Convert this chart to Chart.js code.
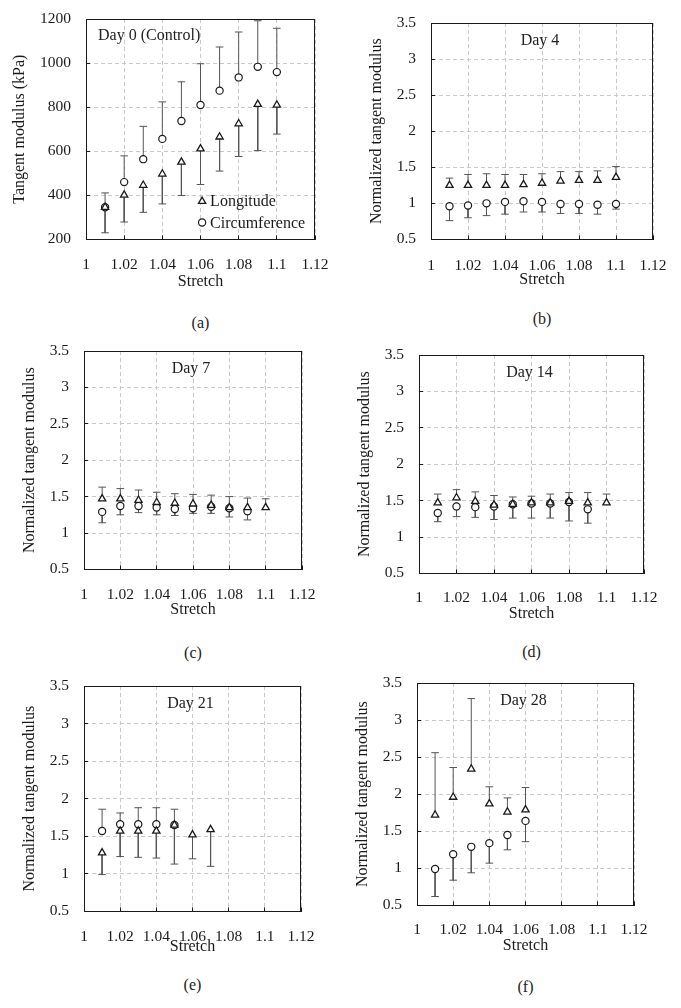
<!DOCTYPE html>
<html>
<head>
<meta charset="utf-8">
<script src="https://cdn.jsdelivr.net/npm/chart.js@4.4.0/dist/chart.umd.min.js"></script>
<style>
  body { margin: 0; background: #fff; overflow: hidden; }
  #page { position: relative; width: 681px; height: 1008px; overflow: hidden; font-family: 'Liberation Serif', 'Times New Roman', serif; color: #222; }
  #page canvas { position: absolute; }
  .lbl { position: absolute; font-size: 16px; line-height: 16px; white-space: nowrap; }
</style>
</head>
<body>
<div id="page"></div>
<script>
// stretch values shared by all panels (series use the first n entries)
const stretch = [1.01, 1.02, 1.03, 1.04, 1.05, 1.06, 1.07, 1.08, 1.09, 1.10];

// Day 0 (Control), kPa -- longitude bars go down, circumference bars go up
const day0Long    = [346, 401, 446, 497, 551, 611, 665, 725, 813, 810];
const day0LongEnd = [230, 279, 323, 361, 399, 449, 510, 576, 603, 678];
const day0Circ    = [346, 460, 564, 656, 737, 810, 875, 935, 983, 959];
const day0CircEnd = [411, 579, 713, 824, 915, 997, 1073, 1141, 1192, 1158];

// Day 4 (normalized)
const day4Long    = [1.25, 1.25, 1.25, 1.25, 1.26, 1.28, 1.31, 1.32, 1.32, 1.36];
const day4LongEnd = [1.35, 1.40, 1.41, 1.40, 1.40, 1.41, 1.44, 1.44, 1.45, 1.51];
const day4Circ    = [0.96, 0.97, 1.00, 1.02, 1.03, 1.02, 0.99, 0.99, 0.98, 0.99];
const day4CircEnd = [0.76, 0.80, 0.83, 0.85, 0.88, 0.88, 0.86, 0.86, 0.85, 0.92];

// Day 7
const day7Long    = [1.47, 1.47, 1.45, 1.42, 1.41, 1.40, 1.38, 1.35, 1.35, 1.35];
const day7LongEnd = [1.63, 1.61, 1.59, 1.56, 1.54, 1.53, 1.52, 1.50, 1.48, 1.47];
const day7Circ    = [1.29, 1.37, 1.37, 1.35, 1.33, 1.34, 1.36, 1.34, 1.30];
const day7CircEnd = [1.14, 1.25, 1.28, 1.25, 1.24, 1.27, 1.27, 1.22, 1.18];

// Day 14
const day14Long    = [1.47, 1.54, 1.49, 1.44, 1.45, 1.47, 1.47, 1.49, 1.47, 1.47];
const day14LongEnd = [1.59, 1.65, 1.62, 1.57, 1.55, 1.56, 1.59, 1.61, 1.61, 1.59];
const day14Circ    = [1.33, 1.42, 1.41, 1.42, 1.45, 1.46, 1.46, 1.48, 1.38];
const day14CircEnd = [1.21, 1.28, 1.27, 1.24, 1.26, 1.26, 1.26, 1.22, 1.19];

// Day 21
const day21Long    = [1.28, 1.57, 1.57, 1.57, 1.65, 1.52, 1.59];
const day21LongEnd = [0.99, 1.23, 1.22, 1.21, 1.13, 1.20, 1.10];
const day21Circ    = [1.57, 1.66, 1.66, 1.66, 1.65];
const day21CircEnd = [1.86, 1.81, 1.88, 1.88, 1.86];

// Day 28
const day28Long    = [1.72, 1.96, 2.34, 1.87, 1.76, 1.79];
const day28LongEnd = [2.56, 2.36, 3.29, 2.10, 1.95, 2.09];
const day28Circ    = [0.99, 1.19, 1.29, 1.34, 1.45, 1.64];
const day28CircEnd = [0.62, 0.84, 0.94, 1.07, 1.25, 1.36];

const panels = [
  { tag: '(a)', day: 'Day 0 (Control)', yTitle: 'Tangent modulus (kPa)', yMin: 200, yMax: 1200, yStep: 200,
    long: day0Long, longEnd: day0LongEnd, circ: day0Circ, circEnd: day0CircEnd, legend: true },
  { tag: '(b)', day: 'Day 4', yTitle: 'Normalized tangent modulus', yMin: 0.5, yMax: 3.5, yStep: 0.5,
    long: day4Long, longEnd: day4LongEnd, circ: day4Circ, circEnd: day4CircEnd },
  { tag: '(c)', day: 'Day 7', yTitle: 'Normalized tangent modulus', yMin: 0.5, yMax: 3.5, yStep: 0.5,
    long: day7Long, longEnd: day7LongEnd, circ: day7Circ, circEnd: day7CircEnd },
  { tag: '(d)', day: 'Day 14', yTitle: 'Normalized tangent modulus', yMin: 0.5, yMax: 3.5, yStep: 0.5,
    long: day14Long, longEnd: day14LongEnd, circ: day14Circ, circEnd: day14CircEnd },
  { tag: '(e)', day: 'Day 21', yTitle: 'Normalized tangent modulus', yMin: 0.5, yMax: 3.5, yStep: 0.5,
    long: day21Long, longEnd: day21LongEnd, circ: day21Circ, circEnd: day21CircEnd },
  { tag: '(f)', day: 'Day 28', yTitle: 'Normalized tangent modulus', yMin: 0.5, yMax: 3.5, yStep: 0.5,
    long: day28Long, longEnd: day28LongEnd, circ: day28Circ, circEnd: day28CircEnd }
];

// where each plot area sits on the page
const frames = [
  { x0: 0,   l: 86,  t: 19,  r: 315, b: 239, tickOff: 26, titleOff: 42, yTitleOff: 66, tagY: 323 },
  { x0: 340, l: 431, t: 23,  r: 653, b: 239, tickOff: 27, titleOff: 40, yTitleOff: 54, tagY: 319 },
  { x0: 0,   l: 84,  t: 351, r: 302, b: 569, tickOff: 26, titleOff: 40, yTitleOff: 54, tagY: 653 },
  { x0: 340, l: 419, t: 355, r: 644, b: 573, tickOff: 25, titleOff: 40, yTitleOff: 54, tagY: 652 },
  { x0: 0,   l: 84,  t: 686, r: 301, b: 911, tickOff: 26, titleOff: 35, yTitleOff: 54, tagY: 985 },
  { x0: 340, l: 417, t: 683, r: 634, b: 905, tickOff: 25, titleOff: 40, yTitleOff: 54, tagY: 987 }
];

const INK = '#1a1a1a';
const BAR = '#555';
const TICK_FONT = 15.5;
const TITLE_FONT = 16;
const PAD_TOP = 40;     // room for the top tick label + its padding
const PAD_RIGHT = 45;   // room for the last x tick label + its padding

Chart.defaults.font.family = "'Liberation Serif', 'Times New Roman', serif";
Chart.defaults.color = INK;

function points(values) {
  return values.map((v, i) => ({ x: stretch[i], y: v }));
}

// one-sided error bar: mean -> bar end, broken with null between points
function errorPoints(values, ends) {
  const pts = [];
  values.forEach((v, i) => {
    pts.push({ x: stretch[i], y: v });
    pts.push({ x: stretch[i], y: ends[i], cap: true });
    pts.push({ x: stretch[i], y: null });
  });
  return pts;
}

// black frame round the plot area
const framePlugin = {
  id: 'frame',
  beforeDatasetsDraw(chart) {
    const { ctx, chartArea: a } = chart;
    ctx.save();
    ctx.strokeStyle = INK;
    ctx.lineWidth = 1;
    ctx.strokeRect(Math.round(a.left) + 0.5, Math.round(a.top) + 0.5,
      Math.round(a.width) - 1, Math.round(a.height));
    ctx.restore();
  }
};

// legend drawn inside the plot area (panel a)
const markerLegend = {
  id: 'markerLegend',
  afterDatasetsDraw(chart, args, opts) {
    if (!opts.show) return;
    const { ctx, chartArea: a } = chart;
    const x = a.left + opts.x * a.width;
    chart.data.datasets.slice(0, 2).forEach((ds, k) => {
      const y = a.top + opts.ys[k] * a.height;
      ctx.save();
      ctx.strokeStyle = INK;
      ctx.fillStyle = '#fff';
      ctx.lineWidth = ds.pointBorderWidth;
      Chart.helpers.drawPoint(ctx, {
        pointStyle: ds.pointStyle, radius: ds.pointRadius, rotation: 0, borderWidth: ds.pointBorderWidth
      }, x, y);
      ctx.fillStyle = INK;
      ctx.font = TITLE_FONT + "px 'Liberation Serif', serif";
      ctx.textBaseline = 'middle';
      ctx.textAlign = 'left';
      ctx.fillText(ds.label, x + 8, y + 1);
      ctx.restore();
    });
  }
};

const page = document.getElementById('page');

function addLabel(text, x, y, align) {
  const d = document.createElement('div');
  d.className = 'lbl';
  d.textContent = text;
  d.style.top = (y - 8) + 'px';
  d.style.left = x + 'px';
  if (align !== 'left') d.style.transform = 'translateX(-50%)';
  page.appendChild(d);
}

panels.forEach((p, k) => {
  const f = frames[k];
  const xAxisH = f.titleOff + TITLE_FONT * 0.6;
  const top = f.t - PAD_TOP;
  const w = f.r - f.x0 + PAD_RIGHT;
  const h = Math.round(f.b - top + xAxisH);
  const yAxisW = f.l - f.x0;

  const cv = document.createElement('canvas');
  cv.width = w;
  cv.height = h;
  cv.style.left = f.x0 + 'px';
  cv.style.top = top + 'px';
  cv.style.width = w + 'px';
  cv.style.height = h + 'px';
  page.appendChild(cv);

  const isKpa = p.yStep >= 1;

  new Chart(cv, {
    type: 'scatter',
    data: {
      datasets: [
        {
          label: 'Longitude',
          data: points(p.long),
          pointStyle: 'triangle',
          pointRadius: 4.2,
          pointBorderWidth: 1.3,
          pointBorderColor: INK,
          pointBackgroundColor: '#fff'
        },
        {
          label: 'Circumference',
          data: points(p.circ),
          pointStyle: 'circle',
          pointRadius: 3.6,
          pointBorderWidth: 1.2,
          pointBorderColor: INK,
          pointBackgroundColor: '#fff'
        },
        {
          label: 'Longitude error',
          data: errorPoints(p.long, p.longEnd),
          showLine: true,
          spanGaps: false,
          borderColor: BAR,
          borderWidth: 1,
          pointStyle: 'line',
          pointRadius: c => (c.raw && c.raw.cap ? 3.8 : 0),
          pointBorderColor: BAR,
          pointBorderWidth: 1
        },
        {
          label: 'Circumference error',
          data: errorPoints(p.circ, p.circEnd),
          showLine: true,
          spanGaps: false,
          borderColor: BAR,
          borderWidth: 1,
          pointStyle: 'line',
          pointRadius: c => (c.raw && c.raw.cap ? 3.8 : 0),
          pointBorderColor: BAR,
          pointBorderWidth: 1
        }
      ]
    },
    options: {
      responsive: false,
      animation: false,
      events: [],
      layout: { padding: { left: 0, top: PAD_TOP, right: PAD_RIGHT, bottom: 0 } },
      scales: {
        x: {
          type: 'linear',
          min: 1,
          max: 1.12,
          ticks: {
            stepSize: 0.02,
            autoSkip: false,
            maxRotation: 0,
            padding: f.tickOff - TICK_FONT * 0.6 + 4,
            font: { size: TICK_FONT },
            color: INK,
            callback: v => String(+v.toFixed(2))
          },
          grid: { color: '#c9c9c9', lineWidth: 1, tickColor: INK, tickLength: -4 },
          border: { display: true, color: INK, dash: [4, 3] },
          title: { display: true, text: 'Stretch', color: INK, font: { size: TITLE_FONT }, padding: 0 },
          afterFit: s => { s.height = xAxisH; }
        },
        y: {
          type: 'linear',
          min: p.yMin,
          max: p.yMax,
          ticks: {
            stepSize: p.yStep,
            autoSkip: false,
            padding: 19,
            font: { size: TICK_FONT },
            color: INK,
            callback: v => isKpa ? String(Math.round(v)) : String(+v.toFixed(1))
          },
          grid: { color: '#c9c9c9', lineWidth: 1, tickColor: INK, tickLength: -4 },
          border: { display: true, color: INK, dash: [4, 3] },
          title: {
            display: true, text: p.yTitle, color: INK, font: { size: TITLE_FONT },
            padding: { top: (f.l - f.yTitleOff - f.x0) - TITLE_FONT * 0.6, bottom: 0 }
          },
          afterFit: s => { s.width = yAxisW; }
        }
      },
      plugins: {
        legend: { display: false },
        tooltip: { enabled: false },
        markerLegend: { show: !!p.legend, x: 0.507, ys: [0.827, 0.923] }
      }
    },
    plugins: [framePlugin, markerLegend]
  });

  // in-plot day caption and panel tag
  if (p.legend) {
    addLabel(p.day, f.l + 12, f.t + 16, 'left');
  } else {
    addLabel(p.day, (f.l + f.r) / 2 - 2, f.t + 17, 'center');
  }
  addLabel(p.tag, (f.l + f.r) / 2, f.tagY, 'center');
});
</script>
</body>
</html>
